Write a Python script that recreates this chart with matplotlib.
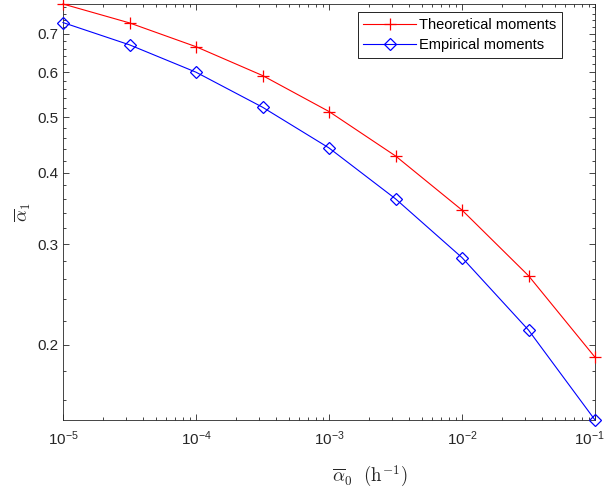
import numpy as np
import matplotlib
matplotlib.use("Agg")
import matplotlib.pyplot as plt
import matplotlib.transforms as mtransforms
from matplotlib.ticker import FixedLocator, FixedFormatter, LogLocator, NullFormatter

plt.rcParams["font.family"] = ["Liberation Sans", "DejaVu Sans"]
plt.rcParams["mathtext.fontset"] = "cm"

# Mean rate alpha_0 (1/h), half-decade steps
alpha0 = [1e-5, 10**-4.5, 1e-4, 10**-3.5, 1e-3, 10**-2.5, 1e-2, 10**-1.5, 1e-1]
theoretical = [0.790, 0.732, 0.665, 0.592, 0.512, 0.428, 0.344, 0.264, 0.190]
empirical = [0.733, 0.670, 0.600, 0.521, 0.442, 0.360, 0.284, 0.212, 0.1475]

x_ticks = [1e-5, 1e-4, 1e-3, 1e-2, 1e-1]
x_tick_labels = [r"$\mathregular{10^{-5}}$", r"$\mathregular{10^{-4}}$",
                 r"$\mathregular{10^{-3}}$", r"$\mathregular{10^{-2}}$",
                 r"$\mathregular{10^{-1}}$"]
y_ticks = [0.2, 0.3, 0.4, 0.5, 0.6, 0.7]
y_tick_labels = ["0.2", "0.3", "0.4", "0.5", "0.6", "0.7"]

axis_gray = (0.15, 0.15, 0.15)

fig = plt.figure(figsize=(6.07, 4.88), dpi=100)
ax = fig.add_axes([63 / 607, 1 - 420 / 488, 532 / 607, 416 / 488])

ax.plot(alpha0, theoretical, color=(1, 0, 0), lw=0.8, marker="+",
        markersize=8, markeredgewidth=0.9, label="Theoretical moments",
        clip_on=False, zorder=3)
ax.plot(alpha0, empirical, color=(0, 0, 1), lw=0.8, marker="D",
        markersize=6.5, markeredgewidth=0.9, fillstyle="none",
        label="Empirical moments", clip_on=False, zorder=3)

ax.set_xscale("log")
ax.set_yscale("log")
ax.set_xlim(min(alpha0), max(alpha0))
ax.set_ylim(min(empirical), max(theoretical))

ax.xaxis.set_major_locator(FixedLocator(x_ticks))
ax.xaxis.set_major_formatter(FixedFormatter(x_tick_labels))
ax.xaxis.set_minor_locator(LogLocator(base=10, subs=np.arange(2, 10)))
ax.xaxis.set_minor_formatter(NullFormatter())

ax.yaxis.set_major_locator(FixedLocator(y_ticks))
ax.yaxis.set_major_formatter(FixedFormatter(y_tick_labels))
minor_y = [v for v in np.round(np.arange(0.14, 0.80, 0.02), 2)
           if not any(abs(v - t) < 1e-9 for t in y_ticks)]
ax.yaxis.set_minor_locator(FixedLocator(minor_y))
ax.yaxis.set_minor_formatter(NullFormatter())

ax.tick_params(which="both", direction="in", top=True, right=True,
               colors=axis_gray, labelsize=11, width=0.6)
ax.tick_params(which="major", length=4.5)
ax.tick_params(which="minor", length=2.5)
ax.tick_params(axis="x", which="major", pad=7)
for s in ax.spines.values():
    s.set_color(axis_gray)
    s.set_linewidth(0.6)

# keep the rightmost decade label inside the figure
fig.canvas.draw()
last_label = ax.get_xticklabels()[-1]
last_label.set_transform(last_label.get_transform() +
                         mtransforms.ScaledTranslation(-6 / 100, 0, fig.dpi_scale_trans))

ax.set_xlabel(r"$\overline{\alpha}_0\ \ (\mathrm{h}^{-1})$", fontsize=13.5,
              color=axis_gray)
ax.xaxis.set_label_coords((370 - 63) / 532, -0.105)
ax.set_ylabel(r"$\overline{\alpha}_1$", fontsize=13, color=axis_gray,
              labelpad=3)

leg = ax.legend(loc="upper right", bbox_to_anchor=((562 - 63) / 532, (420 - 12) / 416),
                borderaxespad=0, fontsize=10.5, handlelength=3.6, fancybox=False,
                framealpha=1, edgecolor="black", borderpad=0.4,
                labelspacing=0.42, handletextpad=0.2)
leg.get_frame().set_linewidth(0.6)

fig.savefig("out.png", dpi=100)
